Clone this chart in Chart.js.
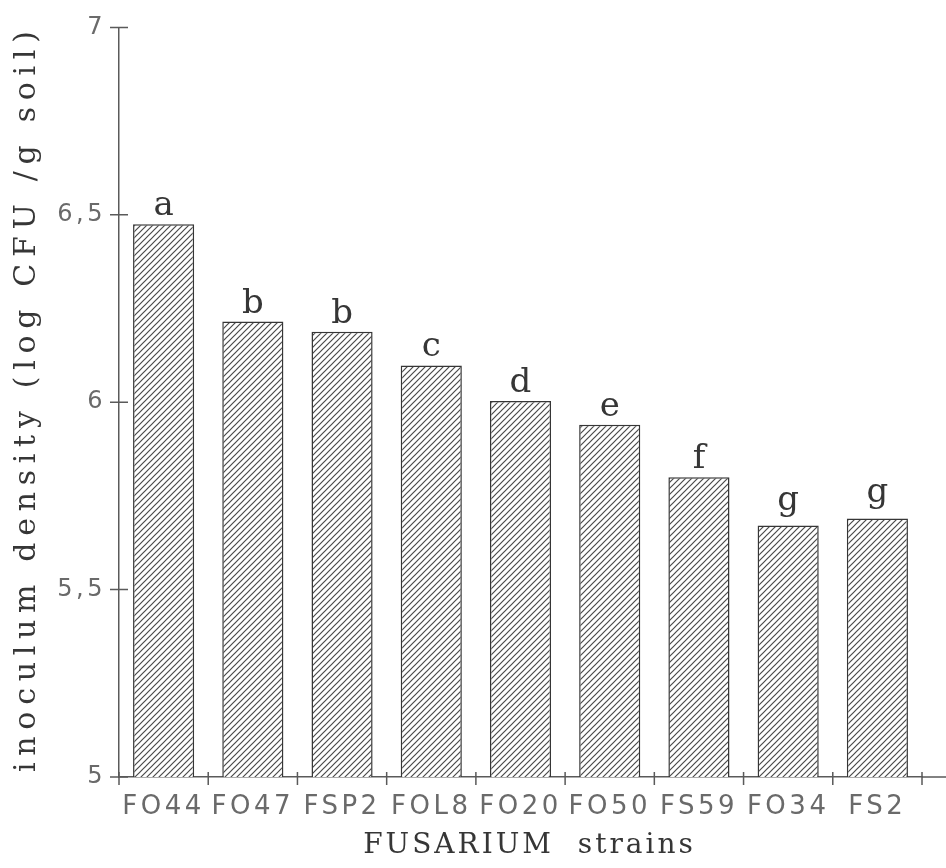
<!DOCTYPE html>
<html>
<head>
<meta charset="utf-8">
<script src="https://cdn.jsdelivr.net/npm/chart.js@4.4.1/dist/chart.umd.min.js"></script>
<style>
  html, body { margin: 0; padding: 0; background: #fff; }
  #wrap { width: 946px; height: 868px; }
</style>
</head>
<body>
<div id="wrap"><canvas id="barChart"></canvas></div>
<script>
// --- data ---
const strains = ['FO44', 'FO47', 'FSP2', 'FOL8', 'FO20', 'FO50', 'FS59', 'FO34', 'FS2'];
const density = [6.475, 6.215, 6.188, 6.098, 6.003, 5.94, 5.80, 5.671, 5.69];
const groups = ['a', 'b', 'b', 'c', 'd', 'e', 'f', 'g', 'g'];
const yTicks = [5, 5.5, 6, 6.5, 7];

const yTitle = 'inoculum density (log CFU /g soil)';
const xTitle = 'FUSARIUM  strains';

const INK = '#363636';
const AXIS = '#5a5a5a';
const TICK_TXT = '#6a6a6a';
const SERIF = "'DejaVu Serif', serif";
const SANS = "'DejaVu Sans', sans-serif";

// hatch fill (///)
function makeHatch() {
    const s = 6;
    const c = document.createElement('canvas');
    c.width = s; c.height = s;
    const g = c.getContext('2d');
    g.fillStyle = '#fff';
    g.fillRect(0, 0, s, s);
    g.strokeStyle = '#4a4a4a';
    g.lineWidth = 1.2;
    g.beginPath();
    g.moveTo(0, s); g.lineTo(s, 0);
    g.moveTo(-1, 1); g.lineTo(1, -1);
    g.moveTo(s - 1, s + 1); g.lineTo(s + 1, s - 1);
    g.stroke();
    return g.createPattern(c, 'repeat');
}

// tick stubs crossing the axes, letters over bars, axis titles
const decor = {
    id: 'decor',
    beforeDraw(chart) {
        chart.ctx.letterSpacing = '3.5px';
    },
    afterDatasetsDraw(chart) {
        const ctx = chart.ctx;
        const meta = chart.getDatasetMeta(0);
        ctx.save();
        ctx.letterSpacing = '0px';
        ctx.font = '34px ' + SERIF;
        ctx.fillStyle = INK;
        ctx.textAlign = 'center';
        ctx.textBaseline = 'alphabetic';
        meta.data.forEach((bar, i) => {
            const m = ctx.measureText(groups[i]);
            ctx.fillText(groups[i], bar.x, bar.y - 9 - m.actualBoundingBoxDescent);
        });
        ctx.restore();
    },
    afterDraw(chart) {
        const ctx = chart.ctx;
        const area = chart.chartArea;
        const x = chart.scales.x, y = chart.scales.y;
        ctx.save();
        ctx.strokeStyle = AXIS;
        ctx.lineWidth = 1.5;
        ctx.beginPath();
        // x axis runs on to the edge
        ctx.moveTo(area.right, area.bottom);
        ctx.lineTo(chart.width, area.bottom);
        yTicks.forEach(v => {
            const py = y.getPixelForValue(v);
            ctx.moveTo(area.left - 9, py);
            ctx.lineTo(area.left + 9, py);
        });
        for (let i = 0; i <= strains.length; i++) {
            const px = x.getPixelForValue(i - 0.5);
            ctx.moveTo(px, area.bottom - 5);
            ctx.lineTo(px, area.bottom + 8);
        }
        ctx.stroke();

        ctx.fillStyle = INK;
        ctx.textAlign = 'center';
        ctx.textBaseline = 'middle';
        ctx.font = '30px ' + SERIF;
        ctx.letterSpacing = '6.7px';
        ctx.translate(27, (area.top + area.bottom) / 2 - 4);
        ctx.rotate(-Math.PI / 2);
        ctx.fillText(yTitle, 0, 0);
        ctx.setTransform(1, 0, 0, 1, 0, 0);
        ctx.font = '28px ' + SERIF;
        ctx.letterSpacing = '3px';
        ctx.fillText(xTitle, (area.left + area.right) / 2 + 9, 846);
        ctx.restore();
    }
};

const ctxBar = document.getElementById('barChart');
new Chart(ctxBar, {
    type: 'bar',
    data: {
        labels: strains,
        datasets: [{
            data: density,
            backgroundColor: makeHatch(),
            borderColor: INK,
            borderWidth: 1.5,
            barPercentage: 0.685,
            categoryPercentage: 1.0
        }]
    },
    options: {
        responsive: true,
        maintainAspectRatio: false,
        animation: false,
        layout: { padding: { top: 23, right: 24, left: 0, bottom: 0 } },
        plugins: { legend: { display: false }, tooltip: { enabled: false } },
        scales: {
            x: {
                grid: { display: false, drawTicks: false },
                border: { display: true, color: AXIS, width: 1.5 },
                ticks: { color: TICK_TXT, font: { family: SANS, size: 26 }, padding: 15 },
                afterFit: s => { s.height = 91; }
            },
            y: {
                min: 5,
                max: 7,
                grid: { display: false, drawTicks: false },
                border: { display: true, color: AXIS, width: 1.5 },
                afterBuildTicks: s => { s.ticks = yTicks.map(v => ({ value: v })); },
                ticks: {
                    color: TICK_TXT,
                    font: { family: SANS, size: 24 },
                    padding: 13,
                    callback: v => String(v).replace('.', ',')
                },
                afterFit: s => { s.width = 119; }
            }
        }
    },
    plugins: [decor]
});
</script>
</body>
</html>
